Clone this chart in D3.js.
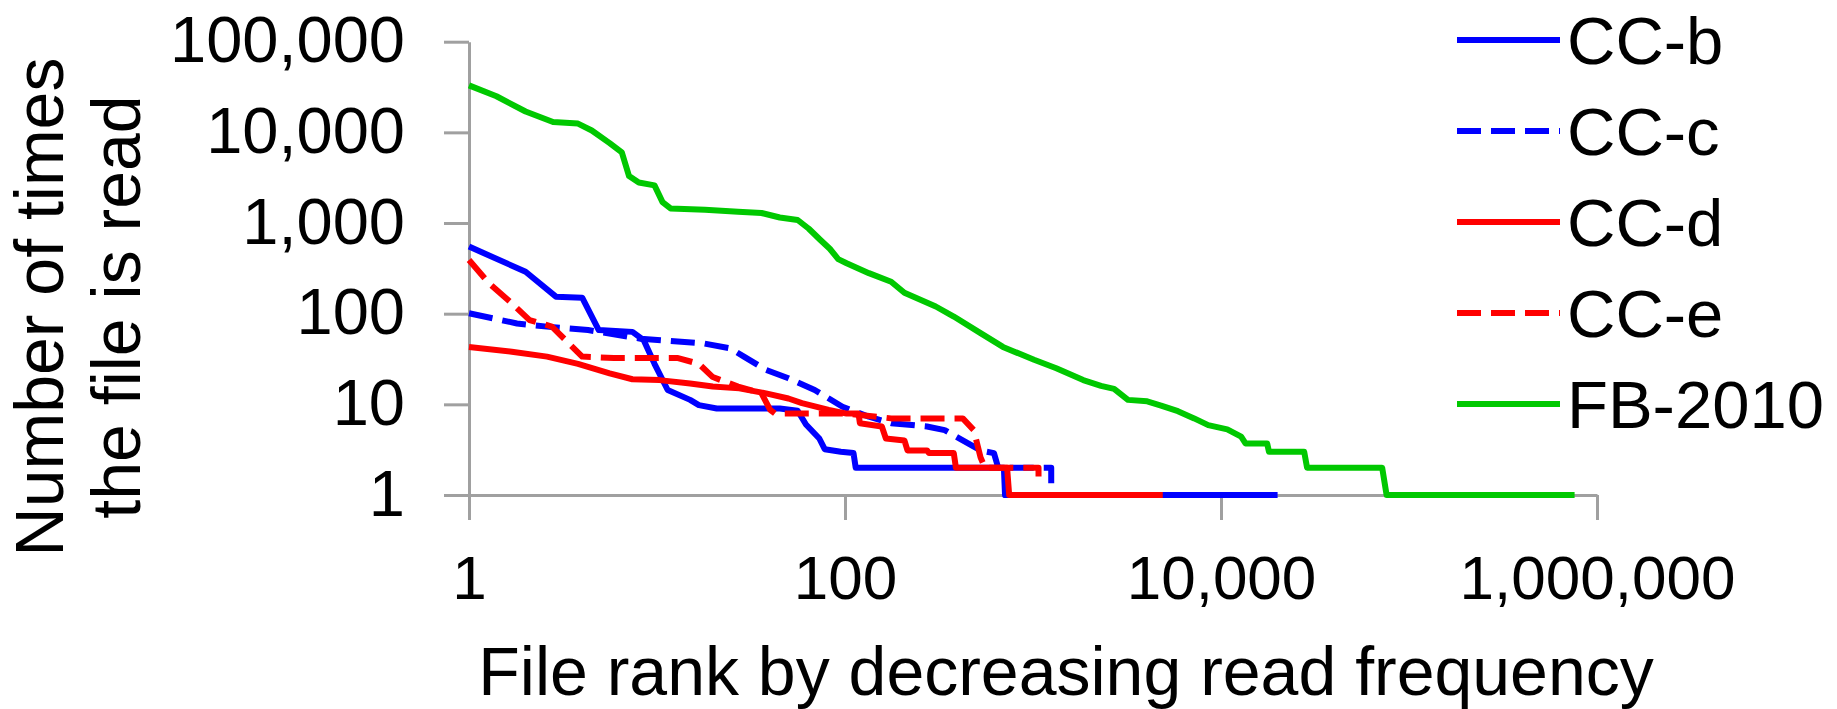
<!DOCTYPE html>
<html>
<head>
<meta charset="utf-8">
<script src="https://cdn.jsdelivr.net/npm/d3@7"></script>
<style>
  body { margin: 0; background: #fff; }
  text { font-family: "Liberation Sans", Arial, sans-serif; fill: #000; }
</style>
</head>
<body>
<script>
// file rank / read count pairs
var ccB = [[1, 550], [2, 290], [2.9, 154], [4, 150], [4.9, 66], [7.4, 63], [8.5, 51], [9.7, 28],
  [11.4, 14.4], [15, 11.2], [16.7, 9.8], [20.8, 9], [45, 9], [56, 8.5], [62, 6], [73, 4.2],
  [78, 3.2], [95, 3.0], [111, 2.9], [114, 2], [700, 2], [710, 1], [20000, 1]];
var ccC = [[1, 101], [1.8, 78], [2.6, 72], [4.3, 66], [8.2, 53], [17.7, 47], [24.5, 41.5], [29, 33.6],
  [38, 24], [50, 19.4], [69, 14.4], [97, 9.4], [134, 7.3], [176, 6.2], [273, 5.7], [339, 5.2],
  [423, 4], [526, 3.1], [620, 2.9], [653, 2], [1250, 2], [1250, 1.35]];
var ccD = [[1, 43], [1.69, 38], [2.6, 33.6], [3.8, 28], [5.6, 22], [7.4, 18.9], [10.3, 18.5], [15, 17],
  [19.8, 15.7], [27.4, 15], [38, 13.2], [50, 11.6], [59, 10.3], [82, 8.7], [102, 7.9], [118, 7.9],
  [120, 6.2], [157, 5.7], [165, 4.2], [207, 4.0], [215, 3.1], [273, 3.1], [280, 2.9], [379, 2.9],
  [389, 2], [728, 2], [747, 1], [4900, 1]];
var ccE = [[1, 391], [1.28, 216], [1.69, 130], [2.1, 85], [2.76, 72], [3.4, 47], [4.0, 33.6], [5.9, 32.5],
  [12.8, 32.5], [16.7, 28], [19.8, 20], [27, 15.7], [36, 13.2], [40, 8.7], [42.5, 7.9], [102, 7.9],
  [176, 7.0], [423, 7.0], [484, 5.2], [526, 2.6], [555, 2], [1070, 2], [1070, 1.3]];
var fb2010 = [[1, 33000], [1.4, 25000], [2, 17000], [2.8, 13000], [3.8, 12500], [4.5, 10500], [5.6, 7600],
  [6.5, 6000], [7.1, 3300], [8, 2800], [9.7, 2600], [10.7, 1700], [11.8, 1450], [18, 1400], [27, 1330],
  [36, 1290], [45, 1150], [56, 1080], [64, 870], [74, 650], [83, 520], [92, 400], [102, 360], [134, 280],
  [176, 225], [207, 170], [304, 120], [379, 93], [526, 61], [692, 43], [1013, 31], [1330, 25],
  [1850, 18.5], [2300, 16], [2700, 14.8], [3200, 11.2], [4050, 10.8], [4800, 9.7], [5900, 8.4],
  [7200, 7.0], [8550, 5.9], [10800, 5.3], [12800, 4.4], [13500, 3.7], [17600, 3.7], [18000, 3.0],
  [27700, 3.0], [28700, 2], [72000, 2], [76000, 1], [760000, 1]];

var seriesNames = ["CC-b", "CC-c", "CC-d", "CC-e", "FB-2010"];
var seriesData = [ccB, ccC, ccD, ccE, fb2010];
var xTicks = [1, 100, 10000, 1000000];
var yTicks = [1, 10, 100, 1000, 10000, 100000];

var colors = ["#0000ff", "#0000ff", "#ff0000", "#ff0000", "#00c800"];
var dashes = [null, "24,10", null, "24,10", null];

var width = 1837, height = 709;

var svg = d3.select("body").append("svg")
  .attr("width", width)
  .attr("height", height);

var x = d3.scaleLog().domain([1, 1000000]).range([469, 1597]);
var y = d3.scaleLog().domain([1, 100000]).range([495, 41.7]);
var fmt = d3.format(",");

//axes
var xAxis = svg.append("g")
  .attr("transform", "translate(0,495)")
  .call(d3.axisBottom(x).tickValues(xTicks).tickFormat(fmt).tickSize(25).tickSizeOuter(0));
var yAxis = svg.append("g")
  .attr("transform", "translate(469,0)")
  .call(d3.axisLeft(y).tickValues(yTicks).tickFormat(fmt).tickSize(25).tickSizeOuter(0));

[xAxis, yAxis].forEach(function (g) {
  g.select(".domain").attr("stroke", "#a0a0a0").attr("stroke-width", 3);
  g.selectAll(".tick line").attr("stroke", "#a0a0a0").attr("stroke-width", 3);
});
xAxis.selectAll(".tick text")
  .attr("y", 104).attr("dy", 0)
  .style("font-size", "62px");
yAxis.selectAll(".tick text")
  .attr("x", -64).attr("dy", 20)
  .style("font-size", "65px");

//series
var line = d3.line()
  .x(function (d) { return x(d[0]); })
  .y(function (d) { return y(d[1]); });

svg.append("g")
  .selectAll("path")
  .data(seriesData)
  .join("path")
  .attr("d", line)
  .attr("fill", "none")
  .attr("stroke", function (d, i) { return colors[i]; })
  .attr("stroke-width", 6)
  .attr("stroke-linejoin", "round")
  .attr("stroke-dasharray", function (d, i) { return dashes[i]; });

//legend
var legendY = [40, 131, 222, 313, 404];
var lg = svg.append("g");
seriesNames.forEach(function (name, i) {
  lg.append("line")
    .attr("x1", 1457).attr("x2", 1560)
    .attr("y1", legendY[i]).attr("y2", legendY[i])
    .attr("stroke", colors[i])
    .attr("stroke-width", 6)
    .attr("stroke-dasharray", dashes[i]);
  lg.append("text")
    .attr("x", 1567)
    .attr("y", legendY[i] + 24)
    .style("font-size", "67px")
    .text(name);
});

//titles
svg.append("text")
  .attr("x", 1066)
  .attr("y", 695)
  .attr("text-anchor", "middle")
  .style("font-size", "68px")
  .text("File rank by decreasing read frequency");

var yt = svg.append("g").attr("transform", "translate(0,307) rotate(-90)");
yt.append("text")
  .attr("x", 0).attr("y", 63)
  .attr("text-anchor", "middle")
  .style("font-size", "68px")
  .text("Number of times");
yt.append("text")
  .attr("x", 0).attr("y", 140)
  .attr("text-anchor", "middle")
  .style("font-size", "68px")
  .text("the file is read");
</script>
</body>
</html>
